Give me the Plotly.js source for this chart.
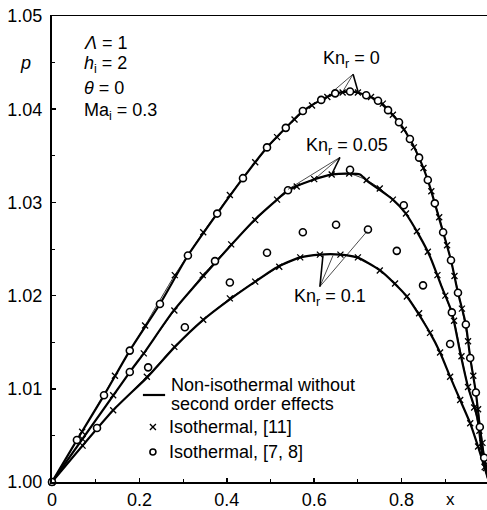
<!DOCTYPE html>
<html>
<head>
<meta charset="utf-8">
<script src="https://cdn.plot.ly/plotly-3.0.1.min.js"></script>
<style>html,body{margin:0;padding:0;background:#fff;}#chart{width:487px;height:510px;}</style>
</head>
<body>
<div id="chart"></div>
<script>
// ---- Non-isothermal without second order effects (thick curves) ----
const kn0_x  = [0, 0.057, 0.119, 0.178, 0.247, 0.311, 0.378, 0.437, 0.492, 0.535, 0.574, 0.616, 0.648, 0.682, 0.719, 0.746, 0.769, 0.794, 0.819, 0.840, 0.860, 0.876, 0.895, 0.913, 0.929, 0.947, 0.957, 0.970, 0.979, 0.989, 1.0];
const kn0_p  = [1.0, 1.0045, 1.0093, 1.0141, 1.0191, 1.0243, 1.0288, 1.0326, 1.0359, 1.0380, 1.0398, 1.0410, 1.0417, 1.0419, 1.0415, 1.0409, 1.0399, 1.0386, 1.0368, 1.0348, 1.0324, 1.0299, 1.0268, 1.0238, 1.0203, 1.0169, 1.0133, 1.0096, 1.0059, 1.0026, 1.0];
const kn05_x = [0, 0.178, 0.213, 0.277, 0.373, 0.465, 0.515, 0.540, 0.590, 0.643, 0.705, 0.721, 0.780, 0.808, 0.842, 0.865, 0.892, 0.915, 0.934, 0.952, 0.973, 0.984, 1.0];
const kn05_p = [1.0, 1.0118, 1.0140, 1.0183, 1.0235, 1.0282, 1.0303, 1.0313, 1.0323, 1.0330, 1.0330, 1.0323, 1.0303, 1.0289, 1.0263, 1.0242, 1.0209, 1.0182, 1.0139, 1.0102, 1.0070, 1.0031, 1.0];
const kn1_x  = [0, 0.140, 0.217, 0.281, 0.346, 0.407, 0.465, 0.517, 0.568, 0.613, 0.659, 0.698, 0.751, 0.812, 0.865, 0.888, 0.911, 0.934, 0.957, 0.975, 1.0];
const kn1_p  = [1.0, 1.0077, 1.0112, 1.0145, 1.0174, 1.0196, 1.0215, 1.0231, 1.0241, 1.0244, 1.0244, 1.0241, 1.0227, 1.0199, 1.0160, 1.0139, 1.0113, 1.0088, 1.0063, 1.0038, 1.0];

// ---- Isothermal, [11] (x markers) ----
const iso11_kn0_x  = [0, 0.069, 0.144, 0.213, 0.281, 0.346, 0.407, 0.465, 0.515, 0.555, 0.595, 0.630, 0.665, 0.700, 0.730, 0.757, 0.780, 0.805, 0.828, 0.850, 0.868, 0.886, 0.904, 0.921, 0.938, 0.952, 0.964, 0.975, 0.985, 0.993, 1.0];
const iso11_kn0_p  = [1.0, 1.0054, 1.0114, 1.0168, 1.0222, 1.0268, 1.0308, 1.0343, 1.0370, 1.0389, 1.0404, 1.0413, 1.0418, 1.0418, 1.0413, 1.0406, 1.0394, 1.0378, 1.0359, 1.0337, 1.0312, 1.0284, 1.0254, 1.0221, 1.0186, 1.0151, 1.0114, 1.0078, 1.0042, 1.0015, 1.0];
const iso11_kn05_x = [0, 0.070, 0.140, 0.210, 0.280, 0.345, 0.410, 0.465, 0.515, 0.560, 0.600, 0.640, 0.680, 0.720, 0.750, 0.780, 0.810, 0.835, 0.860, 0.882, 0.900, 0.920, 0.937, 0.952, 0.966, 0.978, 0.990, 1.0];
const iso11_kn05_p = [1.0, 1.0046, 1.0093, 1.0138, 1.0184, 1.0222, 1.0255, 1.0281, 1.0303, 1.0317, 1.0325, 1.0330, 1.0331, 1.0324, 1.0315, 1.0303, 1.0288, 1.0269, 1.0247, 1.0222, 1.0200, 1.0173, 1.0135, 1.0102, 1.0080, 1.0055, 1.0022, 1.0];
const iso11_kn1_x  = [0, 0.070, 0.140, 0.217, 0.280, 0.346, 0.407, 0.465, 0.520, 0.568, 0.613, 0.660, 0.700, 0.750, 0.785, 0.812, 0.840, 0.865, 0.888, 0.911, 0.934, 0.957, 0.975, 0.990, 1.0];
const iso11_kn1_p  = [1.0, 1.0039, 1.0077, 1.0113, 1.0145, 1.0174, 1.0197, 1.0215, 1.0231, 1.0241, 1.0244, 1.0244, 1.0241, 1.0227, 1.0213, 1.0199, 1.0181, 1.0160, 1.0139, 1.0113, 1.0088, 1.0063, 1.0038, 1.0016, 1.0];

// ---- Isothermal, [7, 8] (circles) ----
const iso78_kn0_x  = [0, 0.057, 0.119, 0.178, 0.247, 0.311, 0.378, 0.437, 0.492, 0.535, 0.574, 0.616, 0.648, 0.682, 0.719, 0.746, 0.769, 0.794, 0.819, 0.840, 0.860, 0.876, 0.895, 0.913, 0.929, 0.947, 0.957, 0.970, 0.979, 0.989];
const iso78_kn0_p  = [1.0, 1.0045, 1.0093, 1.0141, 1.0191, 1.0243, 1.0288, 1.0326, 1.0359, 1.0380, 1.0398, 1.0410, 1.0417, 1.0419, 1.0415, 1.0409, 1.0399, 1.0386, 1.0368, 1.0348, 1.0324, 1.0299, 1.0268, 1.0238, 1.0203, 1.0169, 1.0133, 1.0096, 1.0059, 1.0026];
const iso78_kn05_x = [0.178, 0.373, 0.540, 0.682, 0.805, 0.915];
const iso78_kn05_p = [1.0118, 1.0237, 1.0313, 1.0335, 1.0297, 1.0182];
const iso78_kn1_x  = [0.103, 0.220, 0.304, 0.407, 0.492, 0.574, 0.650, 0.723, 0.789, 0.849, 0.911];
const iso78_kn1_p  = [1.0058, 1.0123, 1.0166, 1.0214, 1.0246, 1.0268, 1.0276, 1.0271, 1.0248, 1.0211, 1.0148];

// ---- Labels ----
const xTickVals = [0, 0.2, 0.4, 0.6, 0.8, 1];
const xTickText = ['0', '0.2', '0.4', '0.6', '0.8', '1'];
const paramLines = ['<i>Λ</i> = 1', '<i>h</i><sub>i</sub> = 2', '<i>θ</i> = 0', 'Ma<sub>i</sub> = 0.3'];
const knLabels = ['Kn<sub>r</sub> = 0', 'Kn<sub>r</sub> = 0.05', 'Kn<sub>r</sub> = 0.1'];
const legendLabels = ['Non-isothermal without', 'second order effects', 'Isothermal, [11]', 'Isothermal, [7, 8]'];

// leader lines: [x_apex, p_apex, x_end, p_end]
const leaders = [
  [0.689, 1.04376, 0.641, 1.04183],
  [0.689, 1.04376, 0.666, 1.04194],
  [0.689, 1.04376, 0.700, 1.04194],
  [0.659, 1.03484, 0.540, 1.03140],
  [0.659, 1.03484, 0.606, 1.03270],
  [0.659, 1.03484, 0.641, 1.03310],
  [0.613, 1.02097, 0.620, 1.02430],
  [0.613, 1.02097, 0.643, 1.02430],
  [0.613, 1.02097, 0.721, 1.02690]
];
const knLabelPos = [[0.686, 1.04538], [0.675, 1.0360], [0.636, 1.0198]];

const FONT = 'Liberation Sans, Arial, Helvetica, sans-serif';

function thick(x, y) {
  return {x: x, y: y, mode: 'lines', type: 'scatter', line: {color: '#000', width: 2.2, shape: 'spline', smoothing: 0.6}, showlegend: false, hoverinfo: 'skip'};
}
function iso11(x, y) {
  return {x: x, y: y, mode: 'lines+markers', type: 'scatter', line: {color: '#000', width: 0.8, shape: 'spline', smoothing: 0.6},
    marker: {symbol: 'x-thin', size: 6, line: {color: '#000', width: 1.3}}, showlegend: false, cliponaxis: false, hoverinfo: 'skip'};
}
function iso78(x, y) {
  return {x: x, y: y, mode: 'markers', type: 'scatter',
    marker: {symbol: 'circle', size: 7, color: '#fff', line: {color: '#000', width: 1.6}}, showlegend: false, cliponaxis: false, hoverinfo: 'skip'};
}

const data = [
  iso11(iso11_kn0_x, iso11_kn0_p), iso11(iso11_kn05_x, iso11_kn05_p), iso11(iso11_kn1_x, iso11_kn1_p),
  thick(kn0_x, kn0_p), thick(kn05_x, kn05_p), thick(kn1_x, kn1_p),
  iso78(iso78_kn0_x, iso78_kn0_p), iso78(iso78_kn05_x, iso78_kn05_p), iso78(iso78_kn1_x, iso78_kn1_p)
];

const shapes = leaders.map((l, i) => ({type: 'line', xref: 'x', yref: 'y', x0: l[0], y0: l[1], x1: l[2], y1: l[3],
  line: {color: '#000', width: (i === 2 || i === 5 || i === 6) ? 1.6 : 0.7}}));
// legend keys
shapes.push({type: 'line', xref: 'paper', yref: 'paper', x0: 0.209, x1: 0.260, y0: 0.1867, y1: 0.1867, line: {color: '#000', width: 2.2}});
shapes.push({type: 'line', xref: 'paper', yref: 'paper', xsizemode: 'pixel', ysizemode: 'pixel', xanchor: 0.232, yanchor: 0.118, x0: -3, x1: 3, y0: -3, y1: 3, line: {color: '#000', width: 1.3}});
shapes.push({type: 'line', xref: 'paper', yref: 'paper', xsizemode: 'pixel', ysizemode: 'pixel', xanchor: 0.232, yanchor: 0.118, x0: -3, x1: 3, y0: 3, y1: -3, line: {color: '#000', width: 1.3}});
shapes.push({type: 'circle', xref: 'paper', yref: 'paper', xsizemode: 'pixel', ysizemode: 'pixel', xanchor: 0.232, yanchor: 0.0644, x0: -3, x1: 3, y0: -3, y1: 3, fillcolor: '#fff', line: {color: '#000', width: 1.6}});

const annotations = [];
const paramY = [0.942, 0.895, 0.845, 0.794];
paramLines.forEach((t, i) => annotations.push({text: t, xref: 'paper', yref: 'paper', x: 0.069, y: paramY[i], xanchor: 'left', yanchor: 'middle', showarrow: false, font: {size: 18, color: '#000', family: FONT}}));
knLabels.forEach((t, i) => annotations.push({text: t, xref: 'x', yref: 'y', x: knLabelPos[i][0], y: knLabelPos[i][1], xanchor: 'center', yanchor: 'middle', showarrow: false, font: {size: 18, color: '#000', family: FONT}}));
const legY = [0.2075, 0.1665, 0.118, 0.0644];
const legX = [0.269, 0.269, 0.264, 0.264];
legendLabels.forEach((t, i) => annotations.push({text: t, xref: 'paper', yref: 'paper', x: legX[i], y: legY[i], xanchor: 'left', yanchor: 'middle', showarrow: false, font: {size: 18, color: '#000', family: FONT}}));
annotations.push({text: '<i>p</i>', xref: 'paper', yref: 'paper', x: -0.062, y: 0.899, xanchor: 'center', yanchor: 'middle', showarrow: false, font: {size: 18, color: '#000', family: FONT}});
annotations.push({text: 'x', xref: 'paper', yref: 'paper', x: 0.915, y: -0.038, xanchor: 'center', yanchor: 'middle', showarrow: false, font: {size: 17, color: '#000', family: FONT}});

const layout = {
  width: 487, height: 510,
  margin: {l: 52, r: 0, t: 16, b: 28},
  paper_bgcolor: '#fff', plot_bgcolor: '#fff',
  font: {family: FONT, size: 18, color: '#000'},
  showlegend: false,
  xaxis: {range: [0, 0.9954], tickvals: xTickVals, ticktext: xTickText, ticks: 'inside', ticklen: 4, tickwidth: 1.5, tickcolor: '#000',
    showline: true, linecolor: '#000', linewidth: 1.5, mirror: true, showgrid: false, zeroline: false,
    tickfont: {size: 18, color: '#000', family: FONT}, ticklabelstandoff: 1,
    minor: {dtick: 0.1, tick0: 0, ticks: 'inside', ticklen: 3, tickwidth: 1, tickcolor: '#000', showgrid: false}},
  yaxis: {range: [1.0, 1.05], dtick: 0.01, tick0: 1.0, tickformat: '.2f', ticks: 'inside', ticklen: 4, tickwidth: 1.5, tickcolor: '#000',
    showline: true, linecolor: '#000', linewidth: 2, mirror: false, showgrid: false, zeroline: false,
    tickfont: {size: 18, color: '#000', family: FONT}, ticklabelstandoff: 4,
    minor: {dtick: 0.005, tick0: 1.0, ticks: 'inside', ticklen: 3, tickwidth: 1, tickcolor: '#000', showgrid: false}},
  shapes: shapes,
  annotations: annotations
};

Plotly.newPlot('chart', data, layout, {displayModeBar: false, staticPlot: true});
</script>
</body>
</html>
